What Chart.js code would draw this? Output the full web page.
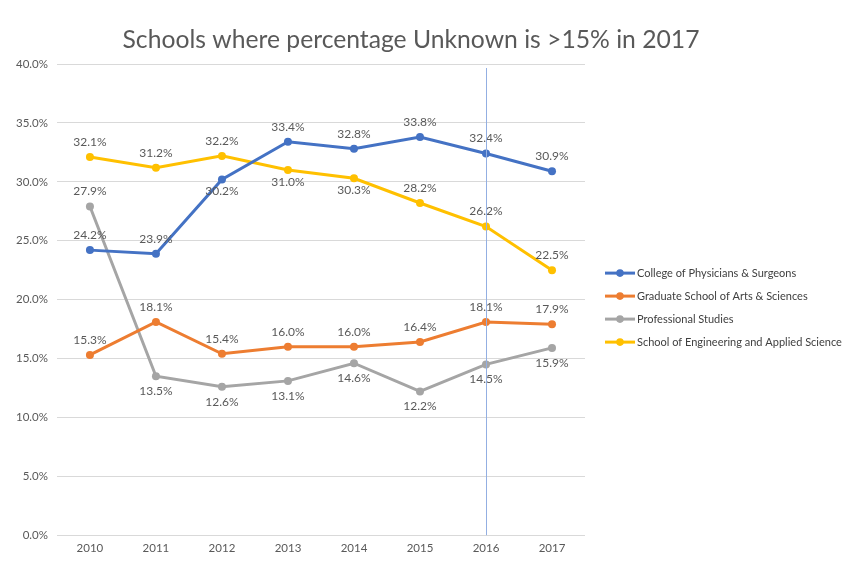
<!DOCTYPE html>
<html>
<head>
<meta charset="utf-8">
<script src="https://cdn.jsdelivr.net/npm/chart.js@4"></script>
<style>
  html, body { margin: 0; padding: 0; background: #fff; }
  #wrap { width: 847px; height: 564px; }
</style>
</head>
<body>
<div id="wrap"><canvas id="chart" width="847" height="564"></canvas></div>
<script>
// Schools where percentage Unknown is >15% in 2017

const YEARS = ["2010", "2011", "2012", "2013", "2014", "2015", "2016", "2017"];
const PHYSICIANS = [24.2, 23.9, 30.2, 33.4, 32.8, 33.8, 32.4, 30.9];
const GRAD_ARTS = [15.3, 18.1, 15.4, 16.0, 16.0, 16.4, 18.1, 17.9];
const PROF_STUDIES = [27.9, 13.5, 12.6, 13.1, 14.6, 12.2, 14.5, 15.9];
const ENGINEERING = [32.1, 31.2, 32.2, 31.0, 30.3, 28.2, 26.2, 22.5];
const Y_TICKS = [0, 5, 10, 15, 20, 25, 30, 35, 40];
const MARKED_YEAR = "2016";
const TITLE = "Schools where percentage Unknown is >15% in 2017";

// which side of the point each data label sits on (a = above, b = below)
const LABEL_SIDE = [
  ["a", "a", "b", "a", "a", "a", "a", "a"],
  ["a", "a", "a", "a", "a", "a", "a", "a"],
  ["a", "b", "b", "b", "b", "b", "b", "b"],
  ["a", "a", "a", "b", "b", "a", "a", "a"],
];

const FONT = "Lato, 'Open Sans', sans-serif";
const TEXT = "#595959";

function series(label, data, color) {
  return {
    label,
    data,
    borderColor: color,
    backgroundColor: color,
    borderWidth: 3,
    pointRadius: 4,
    pointHoverRadius: 4,
    pointBackgroundColor: color,
    pointBorderWidth: 0,
    tension: 0,
  };
}

// value labels next to every point
const valueLabels = {
  id: "valueLabels",
  afterDatasetsDraw(chart) {
    const ctx = chart.ctx;
    ctx.save();
    ctx.font = "12px " + FONT;
    ctx.fillStyle = TEXT;
    ctx.textAlign = "center";
    ctx.textBaseline = "middle";
    chart.data.datasets.forEach((ds, i) => {
      chart.getDatasetMeta(i).data.forEach((pt, j) => {
        const below = LABEL_SIDE[i][j] === "b";
        const dy = below ? (i === 2 ? 15 : 12) : -15;
        ctx.fillText(ds.data[j].toFixed(1) + "%", pt.x, pt.y + dy);
      });
    });
    ctx.restore();
  },
};

// thin vertical marker at one year
const yearMarker = {
  id: "yearMarker",
  afterDatasetsDraw(chart) {
    const x = Math.round(chart.scales.x.getPixelForValue(YEARS.indexOf(MARKED_YEAR))) + 0.5;
    const area = chart.chartArea;
    const ctx = chart.ctx;
    ctx.save();
    ctx.strokeStyle = "#93afe2";
    ctx.lineWidth = 1;
    ctx.beginPath();
    ctx.moveTo(x, area.top + 4);
    ctx.lineTo(x, area.bottom);
    ctx.stroke();
    ctx.restore();
  },
};

// title and legend drawn by hand so they sit where the original has them
const titleAndLegend = {
  id: "titleAndLegend",
  afterDraw(chart) {
    const ctx = chart.ctx;
    const area = chart.chartArea;
    ctx.save();
    ctx.font = "24.7px " + FONT;
    ctx.fillStyle = TEXT;
    ctx.textAlign = "center";
    ctx.textBaseline = "middle";
    ctx.fillText(TITLE, 411, 40);

    const sets = chart.data.datasets;
    const rowH = 23;
    let y = (area.top + area.bottom) / 2 - ((sets.length - 1) * rowH) / 2 + 8;
    const x0 = area.right + 20;
    ctx.font = "11px " + FONT;
    ctx.textAlign = "left";
    sets.forEach((ds) => {
      ctx.strokeStyle = ds.borderColor;
      ctx.fillStyle = ds.borderColor;
      ctx.lineWidth = 3;
      ctx.beginPath();
      ctx.moveTo(x0, y);
      ctx.lineTo(x0 + 30, y);
      ctx.stroke();
      ctx.beginPath();
      ctx.arc(x0 + 15, y, 3.8, 0, Math.PI * 2);
      ctx.fill();
      ctx.fillStyle = "#404040";
      ctx.fillText(ds.label, x0 + 32, y);
      y += rowH;
    });
    ctx.restore();
  },
};

new Chart(document.getElementById("chart"), {
  type: "line",
  data: {
    labels: YEARS,
    datasets: [
      series("College of Physicians & Surgeons", PHYSICIANS, "#4472c4"),
      series("Graduate School of Arts & Sciences", GRAD_ARTS, "#ed7d31"),
      series("Professional Studies", PROF_STUDIES, "#a5a5a5"),
      series("School of Engineering and Applied Science", ENGINEERING, "#ffc000"),
    ],
  },
  options: {
    responsive: false,
    animation: false,
    layout: { padding: { left: 7, right: 262, top: 64, bottom: 3 } },
    plugins: {
      title: { display: false },
      legend: { display: false },
      tooltip: { enabled: false },
    },
    scales: {
      x: {
        offset: true,
        grid: { display: false, drawTicks: false },
        border: { display: false },
        ticks: { color: TEXT, font: { family: FONT, size: 11.5 }, padding: 6 },
      },
      y: {
        min: 0,
        max: 40,
        afterBuildTicks: (axis) => { axis.ticks = Y_TICKS.map((v) => ({ value: v })); },
        grid: { color: "#d9d9d9", drawTicks: false },
        border: { display: false },
        ticks: {
          color: TEXT,
          font: { family: FONT, size: 11.5 },
          padding: 9,
          callback: (v) => Number(v).toFixed(1) + "%",
        },
      },
    },
  },
  plugins: [valueLabels, yearMarker, titleAndLegend],
});
</script>
</body>
</html>
